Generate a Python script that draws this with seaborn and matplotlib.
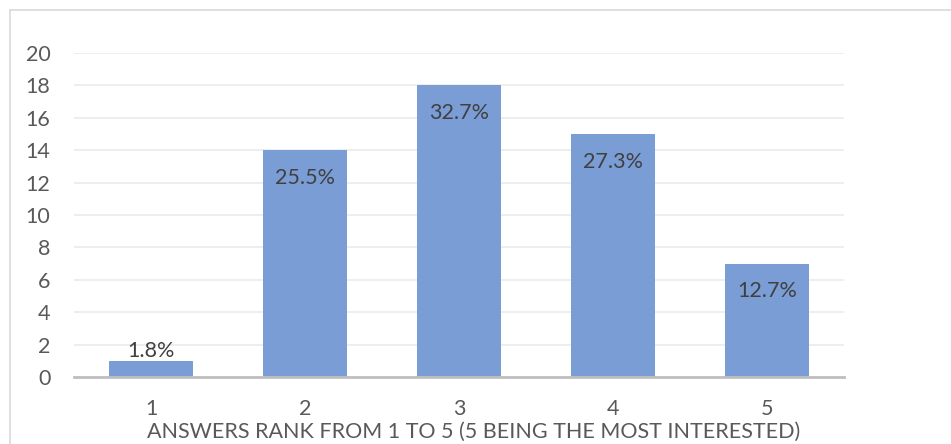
import matplotlib
matplotlib.use("Agg")
import matplotlib.pyplot as plt
from matplotlib.lines import Line2D
import seaborn as sns
import pandas as pd

ranks = ["1", "2", "3", "4", "5"]
counts = [1, 14, 18, 15, 7]
pct_labels = ["1.8%", "25.5%", "32.7%", "27.3%", "12.7%"]
y_ticks = [0, 2, 4, 6, 8, 10, 12, 14, 16, 18, 20]
x_title = "ANSWERS RANK FROM 1 TO 5 (5 BEING THE MOST INTERESTED)"

sns.set_theme(style="white")
plt.rcParams["font.family"] = ["Lato", "DejaVu Sans"]

text_color = "#595959"
bar_color = "#7A9DD6"
fs = 15.5

df = pd.DataFrame({"rank": ranks, "count": counts})

fig = plt.figure(figsize=(9.51, 4.44), dpi=100)
ax = fig.add_axes([74 / 951, 1 - 377 / 444, (844 - 74) / 951, (377 - 53) / 444])

sns.barplot(data=df, x="rank", y="count", color=bar_color, saturation=1,
            width=0.55, ax=ax, edgecolor="none")

ax.set_ylim(0, 20)
ax.set_xlim(-0.5, 4.5)
ax.set_yticks(y_ticks)
ax.yaxis.grid(True, color="#EDEDED", linewidth=1.3)
ax.set_axisbelow(True)
for side in ["top", "right", "left"]:
    ax.spines[side].set_visible(False)
ax.spines["bottom"].set_color("#BFBFBF")
ax.spines["bottom"].set_linewidth(2)
ax.spines["bottom"].set_zorder(5)

ax.tick_params(axis="y", length=0, pad=17, labelsize=fs, labelcolor=text_color)
ax.tick_params(axis="x", length=0, pad=16, labelsize=fs, labelcolor=text_color)
ax.set_ylabel("")
ax.set_xlabel(x_title, fontsize=fs, color=text_color)
ax.xaxis.set_label_coords(0.519, -0.137)

# percentage labels: inside bar tops, or above the bar when it is too short
for i, (c, lab) in enumerate(zip(counts, pct_labels)):
    if c >= 3:
        ax.text(i, c - 1.7, lab, ha="center", va="center", fontsize=fs,
                color="#404040")
    else:
        ax.text(i, c + 0.6, lab, ha="center", va="center", fontsize=fs,
                color="#404040")

# chart frame
fig.add_artist(Line2D([9.5 / 951, 1.0], [1 - 10.5 / 444, 1 - 10.5 / 444],
                      transform=fig.transFigure, color="#D9D9D9", linewidth=1.2))
fig.add_artist(Line2D([9.5 / 951, 9.5 / 951], [0, 1 - 10.5 / 444],
                      transform=fig.transFigure, color="#D9D9D9", linewidth=1.2))

fig.savefig("out.png", dpi=100)
